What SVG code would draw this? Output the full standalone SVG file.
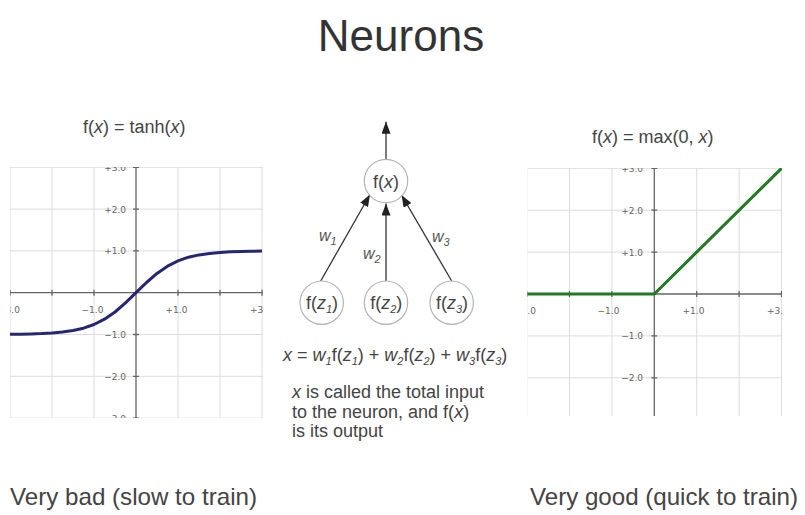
<svg xmlns="http://www.w3.org/2000/svg" width="805" height="515" viewBox="0 0 805 515">
<style>
  .grid{stroke:#dcdcdc;stroke-width:1;fill:none}
  .axis{stroke:#666;stroke-width:1.3;fill:none}
  .tl{font-family:"DejaVu Sans",sans-serif;font-size:9px;fill:#666}
  .t{font-family:"Liberation Sans",Arial,sans-serif;font-size:18px;fill:#444}
  .big{font-family:"Liberation Sans",Arial,sans-serif;font-size:24px;fill:#444}
  .node{fill:#fff;stroke:#b3b3b3;stroke-width:1.2}
  .edge{stroke:#333;stroke-width:1.3;fill:none;marker-end:url(#arr)}
  .wl{font-family:"Liberation Sans",Arial,sans-serif;font-size:16px;font-style:italic;fill:#555}
  .sub{font-size:11px}
</style>
<defs>
  <marker id="arr" markerUnits="userSpaceOnUse" markerWidth="12" markerHeight="9" refX="12" refY="4.5" orient="auto">
    <path d="M0,0 L12,4.5 L0,9 z" fill="#222"/>
  </marker>
  <clipPath id="cl"><rect x="10" y="167" width="253" height="251"/></clipPath>
  <clipPath id="cr"><rect x="527.5" y="168" width="254.5" height="248"/></clipPath>
</defs>
<rect width="805" height="515" fill="#fff"/>

<text x="401" y="51" text-anchor="middle" font-family="Liberation Sans, Arial, sans-serif" font-size="44" fill="#333">Neurons</text>

<!-- left plot -->
<g id="tanh-plot">
  <text class="t" x="83" y="133">f(<tspan font-style="italic">x</tspan>) = tanh(<tspan font-style="italic">x</tspan>)</text>
  <g clip-path="url(#cl)">
    <path class="grid" d="M10,160V425M52,160V425M94,160V425M178,160V425M220,160V425M262,160V425M0,167.3H270M0,209.1H270M0,250.9H270M0,334.5H270M0,376.3H270M0,418.1H270"/>
    <path class="axis" d="M136,160V425M5,292.7H270"/>
    <path class="axis" d="M133,167.3h6M133,209.1h6M133,250.9h6M133,334.5h6M133,376.3h6M133,418.1h6M10,289.7v6M52,289.7v6M94,289.7v6M178,289.7v6M220,289.7v6M262,289.7v6"/>
    <g class="tl" text-anchor="end">
      <text x="126" y="170.8">+3.0</text>
      <text x="126" y="212.6">+2.0</text>
      <text x="126" y="254.4">+1.0</text>
      <text x="126" y="338">−1.0</text>
      <text x="126" y="379.8">−2.0</text>
      <text x="126" y="421.6">−3.0</text>
    </g>
    <g class="tl" text-anchor="middle">
      <text x="9" y="313">−3.0</text>
      <text x="92.5" y="313">−1.0</text>
      <text x="176.5" y="313">+1.0</text>
      <text x="261" y="313">+3.0</text>
    </g>
    <polyline fill="none" stroke="#262673" stroke-width="3" stroke-linejoin="round" points="10,334.3 20.5,334.2 31,333.9 41.5,333.6 52,333.0 62.5,332.1 73,330.5 83.5,328.2 94,324.5 104.5,319.2 115,312.0 125.5,302.9 136,292.7 146.5,282.5 157,273.4 167.5,266.2 178,260.9 188.5,257.2 199,254.9 209.5,253.4 220,252.4 230.5,251.8 241,251.5 251.5,251.2 262,251.1"/>
  </g>
  <text class="big" x="10" y="505" textLength="247" lengthAdjust="spacingAndGlyphs">Very bad (slow to train)</text>
</g>

<!-- right plot -->
<g id="relu-plot">
  <text class="t" x="592" y="143">f(<tspan font-style="italic">x</tspan>) = max(0, <tspan font-style="italic">x</tspan>)</text>
  <g clip-path="url(#cr)">
    <path class="grid" d="M527.1,160V425M569.5,160V425M611.9,160V425M696.7,160V425M739.1,160V425M781.5,160V425M520,168.3H790M520,210.2H790M520,252.1H790M520,335.9H790M520,377.8H790"/>
    <path class="axis" d="M654.3,160V425M520,294H790"/>
    <path class="axis" d="M651.3,168.3h6M651.3,210.2h6M651.3,252.1h6M651.3,335.9h6M651.3,377.8h6M527.1,291v6M569.5,291v6M611.9,291v6M696.7,291v6M739.1,291v6M781.5,291v6"/>
    <g class="tl" text-anchor="end">
      <text x="643" y="171.8">+3.0</text>
      <text x="643" y="213.7">+2.0</text>
      <text x="643" y="255.6">+1.0</text>
      <text x="643" y="339.4">−1.0</text>
      <text x="643" y="381.3">−2.0</text>
    </g>
    <g class="tl" text-anchor="middle">
      <text x="525" y="314">−3.0</text>
      <text x="608.5" y="314">−1.0</text>
      <text x="693.5" y="314">+1.0</text>
      <text x="778" y="314">+3.0</text>
    </g>
    <polyline fill="none" stroke="#217a21" stroke-width="3" stroke-linejoin="round" points="527,294 654.3,294 781.5,168.3"/>
  </g>
  <text class="big" x="530" y="505" textLength="268" lengthAdjust="spacingAndGlyphs">Very good (quick to train)</text>
</g>

<!-- neuron diagram -->
<g id="connectors">
  <line class="edge" x1="386" y1="159.3" x2="386" y2="121.7"/>
  <line class="edge" x1="320.7" y1="281" x2="370" y2="194.5"/>
  <line class="edge" x1="386" y1="281" x2="386" y2="203.5"/>
  <line class="edge" x1="451.7" y1="281" x2="401.5" y2="195"/>
  <text class="wl" x="319" y="241">w<tspan class="sub" dy="4">1</tspan></text>
  <text class="wl" x="363" y="259">w<tspan class="sub" dy="4">2</tspan></text>
  <text class="wl" x="432" y="242">w<tspan class="sub" dy="4">3</tspan></text>
</g>
<g id="node-fx">
  <circle class="node" cx="386" cy="181" r="21.7"/>
  <text class="t" x="386" y="187.5" text-anchor="middle">f(<tspan font-style="italic">x</tspan>)</text>
</g>
<g id="node-z1">
  <circle class="node" cx="321.7" cy="302.7" r="21.7"/>
  <text class="t" x="322" y="309" text-anchor="middle">f(<tspan font-style="italic">z</tspan><tspan class="sub" font-style="italic" dy="4">1</tspan><tspan dy="-4">)</tspan></text>
</g>
<g id="node-z2">
  <circle class="node" cx="386" cy="302.7" r="21.7"/>
  <text class="t" x="386.3" y="309" text-anchor="middle">f(<tspan font-style="italic">z</tspan><tspan class="sub" font-style="italic" dy="4">2</tspan><tspan dy="-4">)</tspan></text>
</g>
<g id="node-z3">
  <circle class="node" cx="451.7" cy="302.7" r="21.7"/>
  <text class="t" x="452" y="309" text-anchor="middle">f(<tspan font-style="italic">z</tspan><tspan class="sub" font-style="italic" dy="4">3</tspan><tspan dy="-4">)</tspan></text>
</g>

<g id="equation">
  <text class="t" x="283" y="361"><tspan font-style="italic">x</tspan> = <tspan font-style="italic">w</tspan><tspan class="sub" font-style="italic" dy="4">1</tspan><tspan dy="-4">f(</tspan><tspan font-style="italic">z</tspan><tspan class="sub" font-style="italic" dy="4">1</tspan><tspan dy="-4">) + </tspan><tspan font-style="italic">w</tspan><tspan class="sub" font-style="italic" dy="4">2</tspan><tspan dy="-4">f(</tspan><tspan font-style="italic">z</tspan><tspan class="sub" font-style="italic" dy="4">2</tspan><tspan dy="-4">) + </tspan><tspan font-style="italic">w</tspan><tspan class="sub" font-style="italic" dy="4">3</tspan><tspan dy="-4">f(</tspan><tspan font-style="italic">z</tspan><tspan class="sub" font-style="italic" dy="4">3</tspan><tspan dy="-4">)</tspan></text>
  <text class="t" x="292" y="398"><tspan font-style="italic">x</tspan> is called the total input</text>
  <text class="t" x="292" y="418">to the neuron, and f(<tspan font-style="italic">x</tspan>)</text>
  <text class="t" x="292" y="437">is its output</text>
</g>
</svg>
